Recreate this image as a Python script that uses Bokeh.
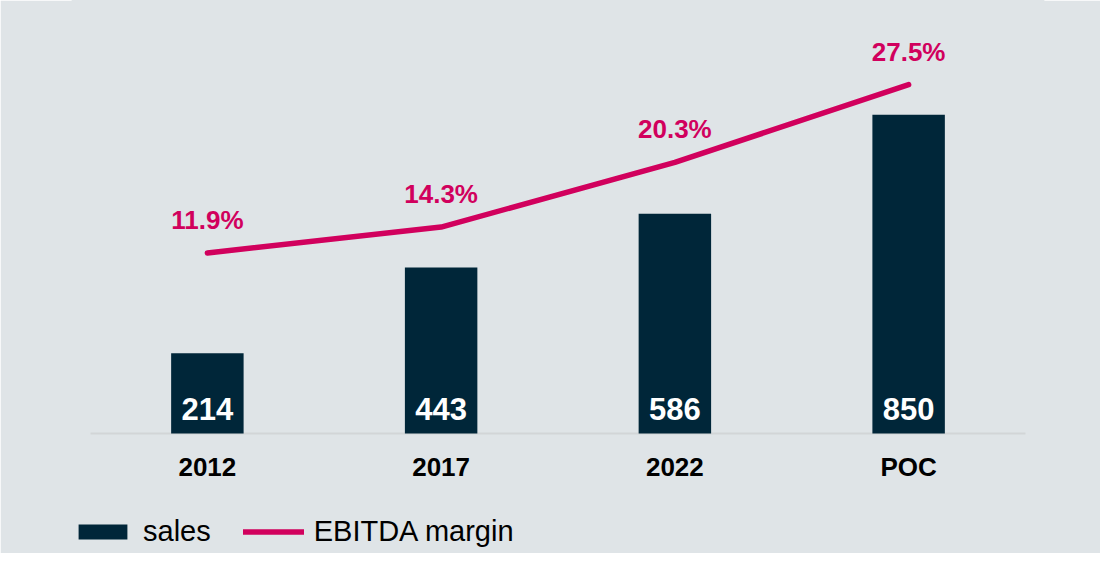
from bokeh.plotting import figure
from bokeh.models import ColumnDataSource, Range1d, FactorRange, Legend, LegendItem
from bokeh.transform import dodge
from bokeh.core.properties import value
from bokeh.embed import file_html
from bokeh.resources import INLINE

# ---- data ----
categories = ["2012", "2017", "2022", "POC"]
sales = [214, 443, 586, 850]
ebitda_margin = [11.9, 14.3, 20.3, 27.5]
sales_labels = [str(v) for v in sales]
margin_labels = [f"{v:.1f}%" for v in ebitda_margin]
legend_labels = ["sales", "EBITDA margin"]

BG = "#dfe4e7"
NAVY = "#002639"
CRIMSON = "#d1005d"
FONT = "Liberation Sans"

src = ColumnDataSource(dict(cat=categories, sales=sales, slab=sales_labels,
                            margin=ebitda_margin, mlab=margin_labels,
                            zero=[0] * len(categories)))
base_src = ColumnDataSource(dict(first=[categories[0]], last=[categories[-1]], y=[0]))

PAD = 0.077  # category units of empty space left/right of the baseline

p = figure(width=1100, height=553, output_backend="svg", toolbar_location=None,
           x_range=FactorRange(*categories, range_padding=PAD / 2),
           y_range=Range1d(-320, 1155),
           min_border_left=72, min_border_right=57, min_border_top=0, min_border_bottom=0)
p.extra_y_ranges = {"pct": Range1d(-15.95, 35.3)}

p.background_fill_color = BG
p.border_fill_color = BG
p.outline_line_color = BG
p.outline_line_width = 2
p.grid.visible = False
p.yaxis.visible = False

# baseline (category axis line) spanning the category band only
p.segment(x0=dodge("first", -0.5, range=p.x_range), y0="y",
          x1=dodge("last", 0.5, range=p.x_range), y1="y", source=base_src,
          line_color="#d2d5d7", line_width=2)

bars = p.vbar(x="cat", top="sales", width=0.31, source=src, fill_color=NAVY, line_color=None)
p.text(x="cat", y="zero", text="slab", source=src, text_color="white",
       text_font_size="31px", text_font_style="bold", text_font=value(FONT),
       text_align="center", text_baseline="alphabetic", y_offset=-25)

line = p.line(x="cat", y="margin", source=src, y_range_name="pct", line_color=CRIMSON,
              line_width=5.5, line_cap="round", line_join="round")
p.text(x="cat", y="margin", text="mlab", source=src, y_range_name="pct", text_color=CRIMSON,
       text_font_size="26px", text_font_style="bold", text_font=value(FONT),
       text_align="center", text_baseline="alphabetic", y_offset=-33)

ax = p.xaxis[0]
ax.fixed_location = 0
ax.axis_line_color = None
ax.major_tick_line_color = None
ax.minor_tick_line_color = None
ax.major_tick_out = 0
ax.major_tick_in = 0
ax.major_label_standoff = 18
ax.major_label_text_font = FONT
ax.major_label_text_font_size = "26px"
ax.major_label_text_font_style = "bold"
ax.major_label_text_color = "black"

legend = Legend(items=[LegendItem(label=legend_labels[0], renderers=[bars]),
                       LegendItem(label=legend_labels[1], renderers=[line])],
                orientation="horizontal", location=(0, 5),
                glyph_width=61, glyph_height=19, label_standoff=10, spacing=32,
                padding=0, margin=0, border_line_color=None, background_fill_alpha=0,
                label_text_font=FONT, label_text_font_size="29px", label_text_color="black")
p.add_layout(legend, "center")

open("out.html", "w").write(file_html(p, INLINE))
